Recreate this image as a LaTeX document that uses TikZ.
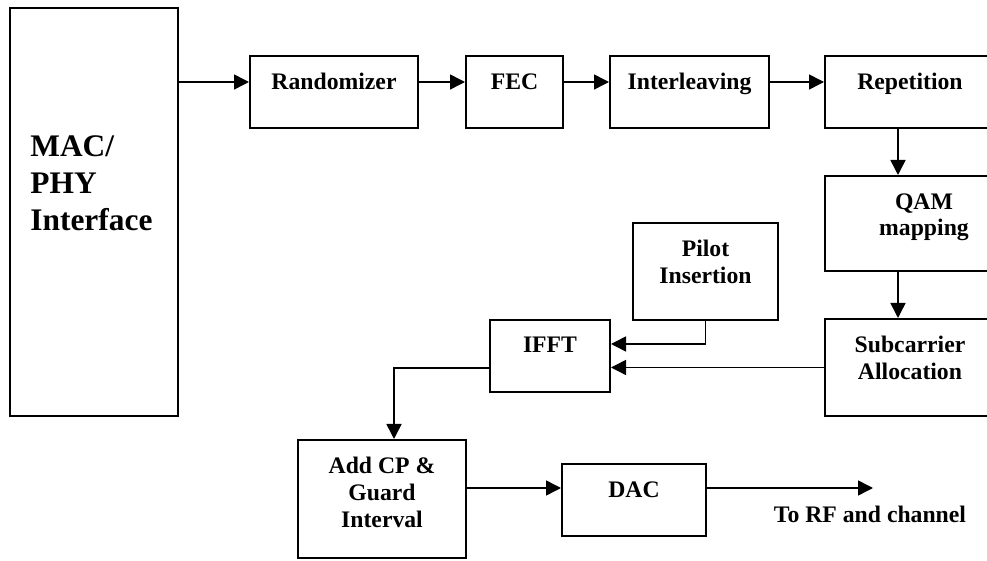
\documentclass[tikz,border=0pt]{standalone}
\usepackage{fontspec}
\setmainfont{Liberation Serif}
\usetikzlibrary{arrows.meta}
\usetikzlibrary{positioning}
\usetikzlibrary{calc}

\tikzset{
  blk/.style={draw, line width=1pt, inner sep=0pt},
  lbl/.style={anchor=north, yshift=-9pt, inner sep=0pt, align=center,
    font=\bfseries\fontsize{11.85}{13.3}\selectfont},
  maclbl/.style={anchor=north west, xshift=10.5pt, yshift=-64pt, inner sep=0pt,
    align=left, font=\bfseries\fontsize{15.7}{18.5}\selectfont},
  arr/.style={line width=0.75pt, -{Triangle[length=7.5pt,width=7.5pt]}}
}

\begin{document}
\begin{tikzpicture}[x=0.5pt,y=-0.5pt]
\path[use as bounding box] (0,0) rectangle (987,561);
\clip (0,0) rectangle (987,561);

\node[blk, minimum width=84pt, minimum height=204pt, label={[maclbl]north west:MAC/\\PHY\\Interface}] (mac) at (94,212) {};

\node[blk, minimum width=84pt, minimum height=36pt, label={[lbl]north:Randomizer}] (rand) at (334,92) {};
\node[blk, minimum width=48.5pt, minimum height=36pt, label={[lbl]north:FEC}] (fec) at (514.5,92) {};
\node[blk, minimum width=79.5pt, minimum height=36pt, label={[lbl]north:Interleaving}] (intl) at (689.5,92) {};
\node[blk, minimum width=85pt, minimum height=36pt, label={[lbl]north:Repetition}] (rep) at (910,92) {};

\node[blk, minimum width=85pt, minimum height=47.5pt, label={[lbl, xshift=7pt]north:QAM\\mapping}] (qam) at (910,223.5) {};
\node[blk, minimum width=85pt, minimum height=48.5pt, label={[lbl]north:Subcarrier\\Allocation}] (sub) at (910,367.5) {};

\node[blk, minimum width=72.5pt, minimum height=48.5pt, label={[lbl]north:Pilot\\Insertion}] (pilot) at (705.5,271.5) {};
\node[blk, minimum width=60pt, minimum height=36pt, label={[lbl]north:IFFT}] (ifft) at (550,356) {};

\node[blk, minimum width=84pt, minimum height=59pt, label={[lbl]north:Add CP \&\\Guard\\Interval}] (addcp) at (382,499) {};
\node[blk, minimum width=72pt, minimum height=36pt, label={[lbl]north:DAC}] (dac) at (634,500) {};

\coordinate (row) at ([yshift=5pt]rand.west);
\coordinate (rf) at (873,488);

\draw[arr] (mac.east |- row) -- (row);
\draw[arr] ([yshift=5pt]rand.east) -- ([yshift=5pt]fec.west);
\draw[arr] ([yshift=5pt]fec.east) -- ([yshift=5pt]intl.west);
\draw[arr] ([yshift=5pt]intl.east) -- ([yshift=5pt]rep.west);
\draw[arr] ([xshift=-6pt]rep.south) -- ([xshift=-6pt]qam.north);
\draw[arr] ([xshift=-6pt]qam.south) -- ([xshift=-6pt]sub.north);
\draw[arr] (sub.west) -- (sub.west -| ifft.east);
\draw[arr] (pilot.south) |- ([yshift=6pt]ifft.east);
\draw[arr] ([yshift=-6pt]ifft.west) -| ([xshift=6pt]addcp.north);
\draw[arr] (addcp.east |- rf) -- (dac.west |- rf);
\draw[arr] (dac.east |- rf) -- (rf);

\node[lbl, xshift=-1.5pt] (rftext) at (rf) {To RF and channel};
\end{tikzpicture}
\end{document}
